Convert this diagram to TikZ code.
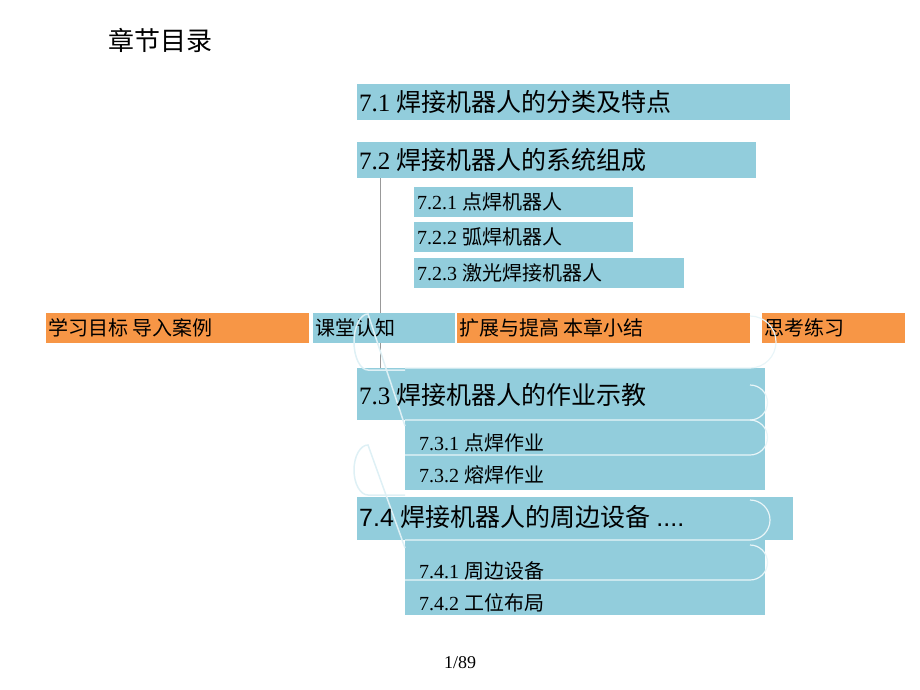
\documentclass[tikz,border=0pt]{standalone}
\usepackage{fontspec}
\setmainfont{Liberation Serif}
\newfontfamily\cjk{Noto Sans CJK SC}
\newfontfamily\sans{Liberation Sans}
\usetikzlibrary{positioning}
\definecolor{tocblue}{HTML}{92CDDC}
\definecolor{tocorange}{HTML}{F79646}
\tikzset{
  bluebox/.style={fill=tocblue, inner sep=0pt},
  orangebox/.style={fill=tocorange, inner sep=0pt},
  boxtext/.style={anchor=west, inner sep=0pt, text=black},
  bigtxt/.style={font=\fontsize{25}{25}\selectfont},
  midtxt/.style={font=\fontsize{20}{20}\selectfont},
  linkline/.style={draw=gray!80, line width=0.8pt}
}
\begin{document}
\begin{tikzpicture}[x=1pt, y=-1pt]
\useasboundingbox (0,0) rectangle (920,690);
% title
\node[boxtext, font=\fontsize{26}{26}\selectfont] (title) at (108,40) {\cjk 章节目录};
% section 7.1 and 7.2
\fill[bluebox] (357,84) rectangle (790,120);
\node[boxtext, bigtxt] (s71) at (359,102) {7.1 {\cjk 焊接机器人的分类及特点}};
\fill[bluebox] (357,142) rectangle (756,178);
\node[boxtext, bigtxt] (s72) at (359,160) {7.2 {\cjk 焊接机器人的系统组成}};
\fill[bluebox] (414,187) rectangle (633,217);
\node[boxtext, midtxt] (s721) at (417,202) {7.2.1 {\cjk 点焊机器人}};
\fill[bluebox] (414,222) rectangle (633,252);
\node[boxtext, midtxt] (s722) at (417,237) {7.2.2 {\cjk 弧焊机器人}};
\fill[bluebox] (414,258) rectangle (684,288);
\node[boxtext, midtxt] (s723) at (417,273) {7.2.3 {\cjk 激光焊接机器人}};
% connector
\coordinate (ltop) at (380,178);
\coordinate (lbot) at (380,405);
\draw[linkline] (ltop) -- (lbot);
% menu bar
\fill[orangebox] (46,313) rectangle (309,343);
\node[boxtext, midtxt] (goal) at (48,328) {\cjk 学习目标 导入案例};
\fill[bluebox] (313,313) rectangle (455,343);
\node[boxtext, midtxt] (learn) at (315,328) {\cjk 课堂认知};
\fill[orangebox] (457,313) rectangle (750,343);
\node[boxtext, midtxt] (ext) at (459,328) {\cjk 扩展与提高 本章小结};
\fill[orangebox] (762,313) rectangle (905,343);
\node[boxtext, midtxt] (ex) at (764,328) {\cjk 思考练习};
% section 7.3
\fill[bluebox] (357,368) rectangle (765,420);
\fill[bluebox] (405,420) rectangle (765,490);
\foreach \y/\h in {368/52,420/35,455/35}
  \draw[white!80!tocblue, line width=1.2pt] (405,\y) -- (750,\y) arc (90:-90:{\h/2});
\draw[white!70!tocblue, line width=1.5pt] (405,370) -- (368,370) arc (90:270:14 and 28) -- (405,426);
\node[boxtext, bigtxt] (s73) at (359,395) {7.3 {\cjk 焊接机器人的作业示教}};
\node[boxtext, midtxt] (s731) at (419,443) {7.3.1 {\cjk 点焊作业}};
\node[boxtext, midtxt] (s732) at (419,475) {7.3.2 {\cjk 熔焊作业}};
% section 7.4
\fill[bluebox] (357,497) rectangle (793,540);
\fill[bluebox] (405,540) rectangle (765,615);
\foreach \y/\h in {540/40,580/35}
  \draw[white!80!tocblue, line width=1.2pt] (405,\y) -- (750,\y) arc (90:-90:{\h/2});
\draw[white!70!tocblue, line width=1.5pt] (405,495) -- (368,495) arc (90:270:14 and 25) -- (405,548);
\node[boxtext, bigtxt] (s74) at (359,517) {{\sans 7.4} {\cjk 焊接机器人的周边设备} {\sans ....}};
\node[boxtext, midtxt] (s741) at (419,571) {7.4.1 {\cjk 周边设备}};
\node[boxtext, midtxt] (s742) at (419,603) {7.4.2 {\cjk 工位布局}};
% page number
\node[font=\fontsize{18}{18}\selectfont] (page) at (460,663) {1/89};
\end{tikzpicture}
\end{document}
